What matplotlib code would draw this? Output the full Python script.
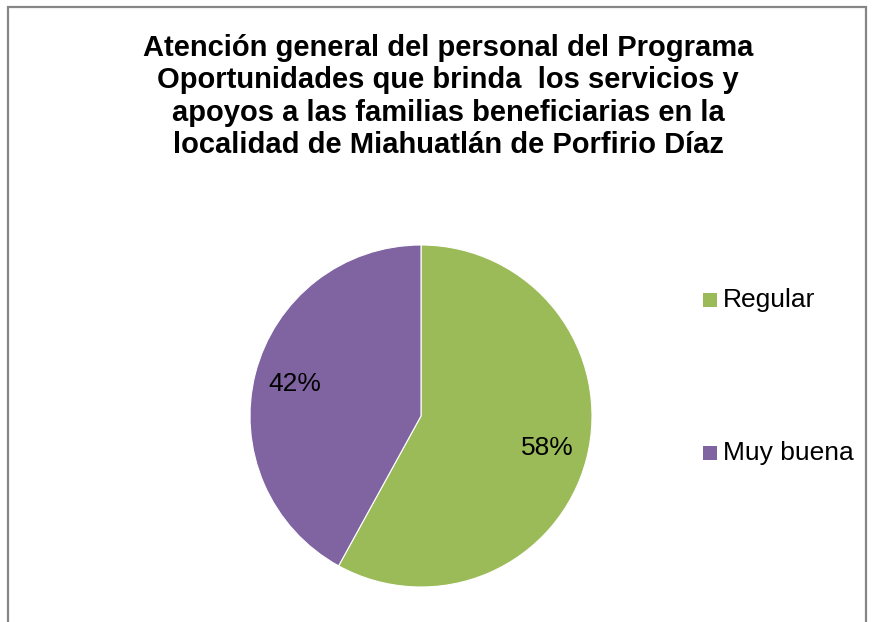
import matplotlib.pyplot as plt
from matplotlib.patches import Rectangle

labels = ['Regular', 'Muy buena']
values = [58, 42]
colors = ['#9BBB59', '#8064A2']
title = ('Atención general del personal del Programa\n'
         'Oportunidades que brinda  los servicios y\n'
         'apoyos a las familias beneficiarias en la\n'
         'localidad de Miahuatlán de Porfirio Díaz')

plt.rcParams['font.family'] = ['Liberation Sans', 'DejaVu Sans']

W, H = 874, 622
fig = plt.figure(figsize=(W / 100, H / 100), dpi=100)

# chart frame (bottom edge cut off in the original)
fig.patches.append(Rectangle((8 / W, -0.05), (866 - 8) / W, 1.05 - 7 / H,
                             transform=fig.transFigure, fill=False,
                             edgecolor='#868686', linewidth=1.6))

cx, cy, r = 421, 416, 171
ax = fig.add_axes([(cx - r) / W, 1 - (cy + r) / H, 2 * r / W, 2 * r / H])
wedges, _, autotexts = ax.pie(values, colors=colors, startangle=90, counterclock=False,
                              autopct='%1.0f%%', pctdistance=0.76,
                              wedgeprops=dict(edgecolor='white', linewidth=0.8),
                              textprops=dict(fontsize=19, color='black'))
ax.set_xlim(-1, 1)
ax.set_ylim(-1, 1)
ax.set_aspect('equal')

fig.text(448 / W, 1 - 34 / H, title, ha='center', va='top', fontsize=21,
         fontweight='bold', linespacing=1.2)

leg_y = [300, 453]
for lab, col, y in zip(labels, colors, leg_y):
    fig.patches.append(Rectangle((703 / W, 1 - (y + 7) / H), 14 / W, 14 / H,
                                 transform=fig.transFigure, facecolor=col, edgecolor='none'))
    fig.text(723 / W, 1 - y / H, lab, ha='left', va='center', fontsize=19)

fig.savefig('out.png', dpi=100)
